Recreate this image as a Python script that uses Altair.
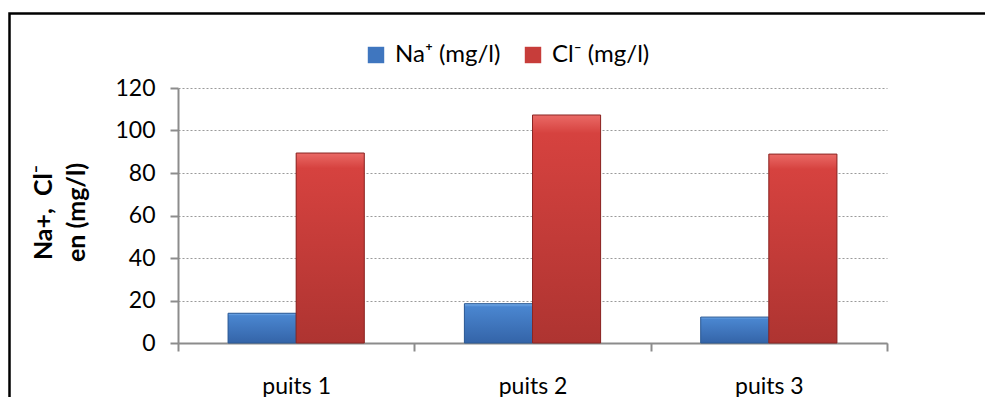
import altair as alt
import pandas as pd

# Measured concentrations per well
puits = ["puits 1", "puits 2", "puits 3"]
na_mg_l = [14.0, 18.5, 12.2]
cl_mg_l = [89.4, 107.3, 88.9]
series = ["Na\u207a (mg/l)", "Cl\u207b (mg/l)"]
y_ticks = [0, 20, 40, 60, 80, 100, 120]

rows = []
for p, na, cl in zip(puits, na_mg_l, cl_mg_l):
    rows.append({"puits": p, "serie": series[0], "valeur": na})
    rows.append({"puits": p, "serie": series[1], "valeur": cl})
df = pd.DataFrame(rows)

FONT = "Lato"
W, H = 709, 255
PAD_L, PAD_T = 178, 88

x_enc = alt.X(
    "puits:N",
    sort=puits,
    title=None,
    scale=alt.Scale(paddingInner=0, paddingOuter=0),
    axis=alt.Axis(
        labelAngle=0,
        tickBand="extent",
        labelPadding=24,
        labelFontSize=23,
        labelColor="#000000",
        domainColor="#8c8c8c",
        domainWidth=2,
        tickColor="#8c8c8c",
        tickWidth=2,
        tickSize=8,
        grid=False,
    ),
)
xoff_enc = alt.XOffset(
    "serie:N", sort=series, scale=alt.Scale(paddingInner=0, paddingOuter=0.735)
)
y_enc = alt.Y(
    "valeur:Q",
    scale=alt.Scale(domain=[0, 120], nice=False),
    title=["Na+,\u00a0\u00a0Cl\u207b", "en (mg/l)"],
    axis=alt.Axis(
        values=y_ticks,
        labelFontSize=23,
        labelColor="#000000",
        labelPadding=15,
        domainColor="#8c8c8c",
        domainWidth=2,
        tickColor="#8c8c8c",
        tickWidth=2,
        tickSize=8,
        grid=True,
        gridColor="#9a9a9a",
        gridDash=[2, 2],
        gridWidth=1.2,
        titleFontSize=25,
        titleFontWeight="bold",
        titleColor="#000000",
        titleLineHeight=33,
        titleAngle=-90,
        titleAlign="center",
        titleBaseline="top",
        titleX=-147,
        titleY=124,
    ),
)

legend_bars = (
    alt.Chart(df)
    .mark_bar(stroke=None)
    .encode(
        x=x_enc,
        xOffset=xoff_enc,
        y=y_enc,
        color=alt.Color(
            "serie:N",
            sort=series,
            scale=alt.Scale(domain=series, range=["#3f76bf", "#c73d3a"]),
            legend=alt.Legend(
                title=None,
                orient="none",
                direction="horizontal",
                legendX=186,
                legendY=-45,
                symbolType="square",
                symbolSize=270,
                symbolStrokeWidth=0,
                labelFontSize=24,
                labelColor="#000000",
                labelOffset=7,
                columnPadding=20,
            ),
        ),
    )
)


def gradient(top, mid, bottom):
    return alt.Gradient(
        gradient="linear",
        x1=0, x2=0, y1=0, y2=1,
        stops=[
            alt.GradientStop(color=top, offset=0),
            alt.GradientStop(color=mid, offset=0.08),
            alt.GradientStop(color=bottom, offset=1),
        ],
    )


na_bars = (
    alt.Chart(df)
    .transform_filter(alt.datum.serie == series[0])
    .mark_bar(
        color=gradient("#7db4ef", "#4a86d0", "#3464a8"),
        stroke="#2d5a94",
        strokeWidth=1,
    )
    .encode(x=x_enc, xOffset=xoff_enc, y=y_enc)
)

cl_bars = (
    alt.Chart(df)
    .transform_filter(alt.datum.serie == series[1])
    .mark_bar(
        color=gradient("#ea6a66", "#d6423f", "#ae3431"),
        stroke="#8a2624",
        strokeWidth=1,
    )
    .encode(x=x_enc, xOffset=xoff_enc, y=y_enc)
)

# Outer chart frame (left and top edges visible)
frame = (
    alt.Chart(pd.DataFrame({"k": [0]}))
    .mark_rect(fillOpacity=0, stroke="#000000", strokeWidth=2.5, clip=False)
    .encode(
        x=alt.value(9.5 - PAD_L),
        x2=alt.value(1000 - PAD_L),
        y=alt.value(13.5 - PAD_T),
        y2=alt.value(420 - PAD_T),
    )
)

chart = (
    alt.layer(legend_bars, na_bars, cl_bars, frame)
    .properties(
        width=W,
        height=H,
        autosize=alt.AutoSizeParams(type="none"),
        padding={"left": PAD_L, "top": PAD_T, "right": 985 - PAD_L - W, "bottom": 397 - PAD_T - H},
        background="#ffffff",
    )
    .configure(font=FONT)
    .configure_view(stroke=None)
)

chart.save("out.html", embed_options={"renderer": "svg", "actions": False})
